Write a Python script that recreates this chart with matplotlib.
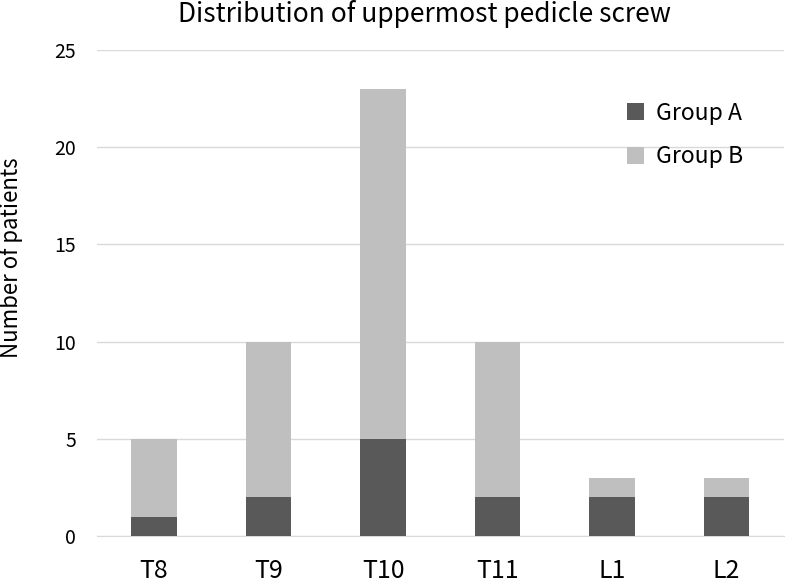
import numpy as np
import matplotlib
matplotlib.use("Agg")
from matplotlib import pyplot as plt

plt.rcParams['font.family'] = ['Noto Sans CJK JP', 'DejaVu Sans']

# data
levels = ["T8", "T9", "T10", "T11", "L1", "L2"]
group_a = [1, 2, 5, 2, 2, 2]
group_b = [4, 8, 18, 8, 1, 1]
yticks = [0, 5, 10, 15, 20, 25]

dark = "#595959"
light = "#bfbfbf"

fig = plt.figure(figsize=(7.87, 5.86), dpi=100)
ax = fig.add_axes([0.123, 0.085, 0.873, 0.830])

x = np.arange(len(levels))
ax.bar(x, group_a, width=0.4, color=dark, label="Group A", zorder=3)
ax.bar(x, group_b, width=0.4, bottom=group_a, color=light, label="Group B", zorder=3)

ax.set_xlim(-0.5, len(levels) - 0.5)
ax.set_ylim(0, 25)
ax.set_yticks(yticks)
ax.set_xticks(x)
ax.set_xticklabels(levels, fontsize=18)
ax.tick_params(axis='y', labelsize=14, length=0, pad=15)
ax.tick_params(axis='x', length=0, pad=16)
ax.grid(axis='y', color="#d9d9d9", linewidth=1, zorder=0)
for s in ("top", "right", "left"):
    ax.spines[s].set_visible(False)
ax.spines["bottom"].set_color("#d9d9d9")

ax.set_ylabel("Number of patients", fontsize=16)
ax.yaxis.set_label_coords(-0.108, 0.572)
ax.set_title("Distribution of uppermost pedicle screw", fontsize=19, pad=20, x=0.477)

leg = ax.legend(loc="upper left", bbox_to_anchor=(0.771, 0.893), frameon=False,
                fontsize=16.5, handlelength=0.78, handleheight=0.78,
                labelspacing=0.9, handletextpad=0.52, borderpad=0, borderaxespad=0)

fig.savefig("out.png", dpi=100)
